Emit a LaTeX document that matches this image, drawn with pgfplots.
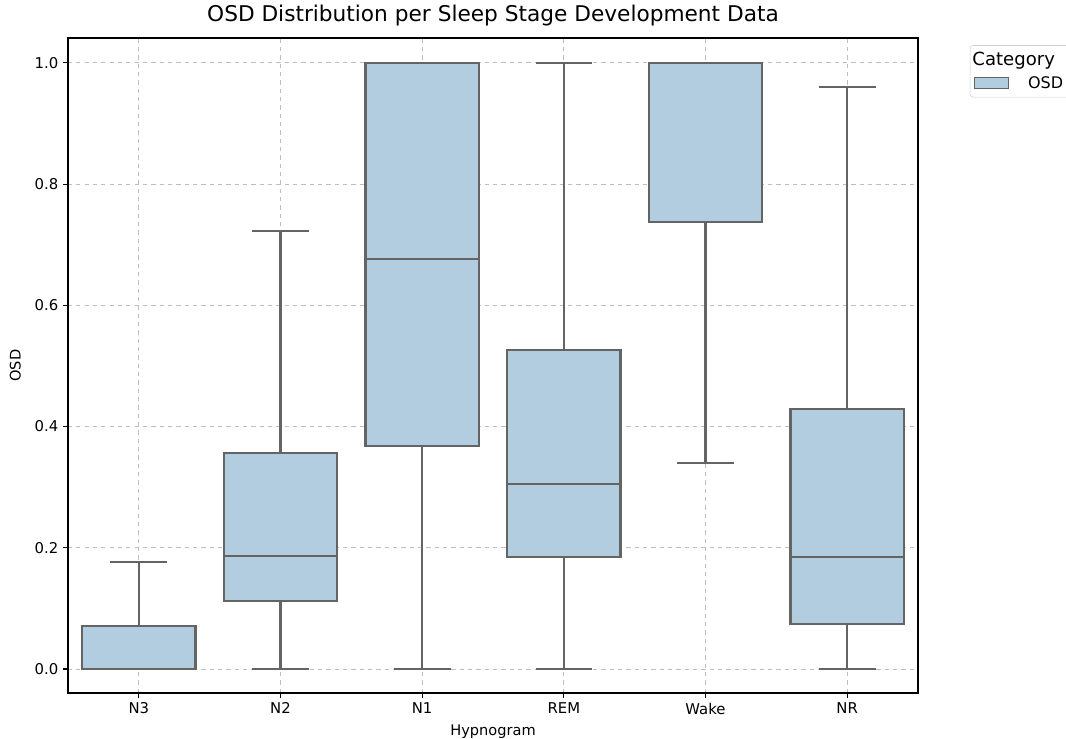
\documentclass[border=0pt]{standalone}
\usepackage{pgfplots}
\pgfplotsset{compat=1.18}
\usepgfplotslibrary{statistics}
\usepackage{fontspec}
\setmainfont{DejaVu Sans}
\definecolor{boxfill}{RGB}{179,205,224}
\definecolor{boxdraw}{RGB}{100,100,100}
\definecolor{gridc}{RGB}{190,190,190}
\begin{document}
\begin{tikzpicture}
\path[use as bounding box] (-48.96pt,-33.12pt) rectangle (718.56pt,498.96pt);
\begin{axis}[
  at={(0,0)}, anchor=south west,
  scale only axis,
  width=612pt, height=471.6pt,
  xmin=-0.5, xmax=5.5,
  ymin=-0.0396, ymax=1.041,
  xtick={0,1,2,3,4,5},
  xticklabels={N3,N2,N1,REM,Wake,NR},
  ytick={0,0.2,0.4,0.6,0.8,1.0},
  yticklabel style={/pgf/number format/fixed, /pgf/number format/fixed zerofill, /pgf/number format/precision=1},
  /pgf/number format/assume math mode=true,
  tick label style={font=\fontsize{10.7}{12}\selectfont},
  tick align=outside,
  tick pos=left,
  major tick length=3.5pt,
  tick style={black, line width=0.8pt},
  axis line style={black, line width=0.8pt},
  grid=major,
  grid style={gridc, dashed, line width=0.6pt},
  title={OSD Distribution per Sleep Stage Development Data},
  title style={font=\fontsize{15.6}{18}\selectfont, yshift=-1pt},
  xlabel={Hypnogram},
  ylabel={OSD},
  label style={font=\fontsize{10.5}{12}\selectfont},
  xlabel style={yshift=-1pt},
  ylabel style={yshift=3pt},
  legend style={at={(1.061,0.989)}, anchor=north west, draw=gridc!70, rounded corners=2pt, font=\fontsize{11.5}{13}\selectfont, cells={anchor=west}, inner sep=3pt, row sep=2pt},
  legend cell align=left,
  boxplot/draw direction=y,
]
\addlegendimage{empty legend}
\addlegendentry{\hspace{-28pt}\fontsize{13}{15}\selectfont Category}
\addlegendimage{legend image code/.code={\draw[fill=boxfill, draw=boxdraw, line width=0.7pt, sharp corners] (0pt,-4pt) rectangle (24pt,4pt);}}
\addlegendentry{\hspace{12pt}OSD}
\pgfplotsset{boxplot/every box/.style={fill=boxfill, draw=boxdraw, line width=1.5pt, solid},
  boxplot/every whisker/.style={draw=boxdraw, line width=1.5pt, solid},
  boxplot/every median/.style={draw=boxdraw, line width=1.5pt, solid}}
\addplot[boxplot prepared={draw position=0, lower whisker=0, lower quartile=0, median=0, upper quartile=0.071, upper whisker=0.177, box extend=0.8, whisker extend=0.4}, fill=boxfill, draw=boxdraw, line width=1.5pt] coordinates {};
\addplot[boxplot prepared={draw position=1, lower whisker=0, lower quartile=0.112, median=0.186, upper quartile=0.356, upper whisker=0.723, box extend=0.8, whisker extend=0.4}, fill=boxfill, draw=boxdraw, line width=1.5pt] coordinates {};
\addplot[boxplot prepared={draw position=2, lower whisker=0, lower quartile=0.368, median=0.677, upper quartile=1.0, upper whisker=1.0, box extend=0.8, whisker extend=0.4}, fill=boxfill, draw=boxdraw, line width=1.5pt] coordinates {};
\addplot[boxplot prepared={draw position=3, lower whisker=0, lower quartile=0.185, median=0.305, upper quartile=0.526, upper whisker=1.0, box extend=0.8, whisker extend=0.4}, fill=boxfill, draw=boxdraw, line width=1.5pt] coordinates {};
\addplot[boxplot prepared={draw position=4, lower whisker=0.340, lower quartile=0.738, median=1.0, upper quartile=1.0, upper whisker=1.0, box extend=0.8, whisker extend=0.4}, fill=boxfill, draw=boxdraw, line width=1.5pt] coordinates {};
\addplot[boxplot prepared={draw position=5, lower whisker=0, lower quartile=0.074, median=0.185, upper quartile=0.429, upper whisker=0.960, box extend=0.8, whisker extend=0.4}, fill=boxfill, draw=boxdraw, line width=1.5pt] coordinates {};
\end{axis}
\end{tikzpicture}
\end{document}
